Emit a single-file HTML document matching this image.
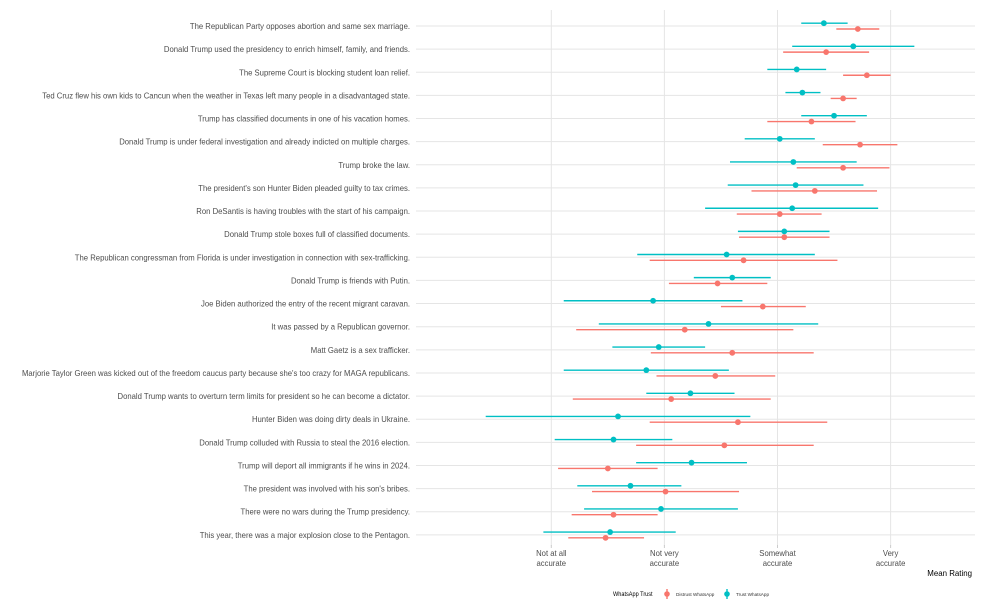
<!DOCTYPE html>
<html><head><meta charset="utf-8">
<style>
html,body{margin:0;padding:0;background:#fff;}
svg{display:block;font-family:"Liberation Sans",sans-serif;}
</style></head>
<body>
<svg id="chart" width="985" height="615" viewBox="0 0 985 615"></svg>
<script>
const categories = [
"The Republican Party opposes abortion and same sex marriage.",
"Donald Trump used the presidency to enrich himself, family, and friends.",
"The Supreme Court is blocking student loan relief.",
"Ted Cruz flew his own kids to Cancun when the weather in Texas left many people in a disadvantaged state.",
"Trump has classified documents in one of his vacation homes.",
"Donald Trump is under federal investigation and already indicted on multiple charges.",
"Trump broke the law.",
"The president's son Hunter Biden pleaded guilty to tax crimes.",
"Ron DeSantis is having troubles with the start of his campaign.",
"Donald Trump stole boxes full of classified documents.",
"The Republican congressman from Florida is under investigation in connection with sex-trafficking.",
"Donald Trump is friends with Putin.",
"Joe Biden authorized the entry of the recent migrant caravan.",
"It was passed by a Republican governor.",
"Matt Gaetz is a sex trafficker.",
"Marjorie Taylor Green was kicked out of the freedom caucus party because she's too crazy for MAGA republicans.",
"Donald Trump wants to overturn term limits for president so he can become a dictator.",
"Hunter Biden was doing dirty deals in Ukraine.",
"Donald Trump colluded with Russia to steal the 2016 election.",
"Trump will deport all immigrants if he wins in 2024.",
"The president was involved with his son's bribes.",
"There were no wars during the Trump presidency.",
"This year, there was a major explosion close to the Pentagon."
];
const trustMean = [3.41,3.67,3.17,3.22,3.50,3.02,3.14,3.16,3.13,3.06,2.55,2.60,1.90,2.39,1.95,1.84,2.23,1.59,1.55,2.24,1.70,1.97,1.52];
const trustLo   = [3.21,3.13,2.91,3.07,3.21,2.71,2.58,2.56,2.36,2.65,1.76,2.26,1.11,1.42,1.54,1.11,1.84,0.42,1.03,1.75,1.23,1.29,0.93];
const trustHi   = [3.62,4.21,3.43,3.38,3.79,3.33,3.70,3.76,3.89,3.46,3.33,2.94,2.69,3.36,2.36,2.57,2.62,2.76,2.07,2.73,2.15,2.65,2.10];
const distMean  = [3.71,3.43,3.79,3.58,3.30,3.73,3.58,3.33,3.02,3.06,2.70,2.47,2.87,2.18,2.60,2.45,2.06,2.65,2.53,1.50,2.01,1.55,1.48];
const distLo    = [3.52,3.05,3.58,3.47,2.91,3.40,3.17,2.77,2.64,2.66,1.87,2.04,2.50,1.22,1.88,1.93,1.19,1.87,1.75,1.06,1.36,1.18,1.15];
const distHi    = [3.90,3.81,4.00,3.70,3.69,4.06,3.99,3.88,3.39,3.46,3.53,2.91,3.25,3.14,3.32,2.98,2.94,3.44,3.32,1.94,2.66,1.94,1.82];
const tickValues = [1,2,3,4];
const tickLabels = [["Not at all","accurate"],["Not very","accurate"],["Somewhat","accurate"],["Very","accurate"]];

const NS="http://www.w3.org/2000/svg";
const svg=document.getElementById('chart');
const x=v=>551.3+(v-1)*113.1;
const y=i=>26+i*23.13;
const SX=0.93;
function mk(tag,attrs,parent){const e=document.createElementNS(NS,tag);for(const k in attrs)e.setAttribute(k,attrs[k]);(parent||svg).appendChild(e);return e;}
function txt(px,py,attrs,parent){const g=mk('g',{transform:`translate(${px},${py}) scale(${SX},1)`},parent);return mk('text',Object.assign({x:0,y:0},attrs),g);}

const grid=mk('g',{});


tickValues.forEach(v=>{mk('line',{x1:x(v),x2:x(v),y1:10,y2:546,stroke:'#e5e5e5','stroke-width':1},grid);});
categories.forEach((c,i)=>{mk('line',{x1:416,x2:975,y1:y(i),y2:y(i),stroke:'#e5e5e5','stroke-width':1},grid);});

categories.forEach((c,i)=>{
 const t=txt(410,y(i)+3,{'text-anchor':'end','font-size':8.3,fill:'#4d4d4d'});
 t.textContent=c;
 
 
});

const colT='#00BFC4', colD='#F8766D';
categories.forEach((c,i)=>{
 const g=mk('g',{});
 
 
 const yt=y(i)-2.8, yd=y(i)+3;
 const l1=mk('line',{x1:x(trustLo[i]),x2:x(trustHi[i]),y1:yt,y2:yt,stroke:colT,'stroke-width':1.4},g);
 
 
 const p1=mk('circle',{cx:x(trustMean[i]),cy:yt,r:2.9,fill:colT},g);
 
 
 const l2=mk('line',{x1:x(distLo[i]),x2:x(distHi[i]),y1:yd,y2:yd,stroke:colD,'stroke-width':1.4},g);
 
 
 const p2=mk('circle',{cx:x(distMean[i]),cy:yd,r:2.9,fill:colD},g);
 
 
});

tickValues.forEach((v,k)=>{
 mk('line',{x1:x(v),x2:x(v),y1:545,y2:548,stroke:'#ccc','stroke-width':1});
 tickLabels[k].forEach((s,j)=>{
  const t=txt(x(v),556+j*10,{'text-anchor':'middle','font-size':8.3,fill:'#4d4d4d'});
  t.textContent=s;
  
  
 });
});
const xt=txt(972,576,{'text-anchor':'end','font-size':8.5,fill:'#000'});
xt.textContent='Mean Rating';



const lg=mk('g',{});


const lt=txt(613,596,{'font-size':6,fill:'#000'},lg);
lt.textContent='WhatsApp Trust';


[[667,colD,'Distrust WhatsApp',676],[727,colT,'Trust WhatsApp',736]].forEach(([cx,col,lab,tx])=>{
 const e=mk('g',{},lg);
 
 
 mk('line',{x1:cx,x2:cx,y1:589,y2:599,stroke:col,'stroke-width':1.4},e);
 mk('circle',{cx:cx,cy:594,r:2.8,fill:col},e);
 const t=txt(tx,596,{'font-size':5,fill:'#333'},e);
 t.textContent=lab;
});
</script>
</body></html>
